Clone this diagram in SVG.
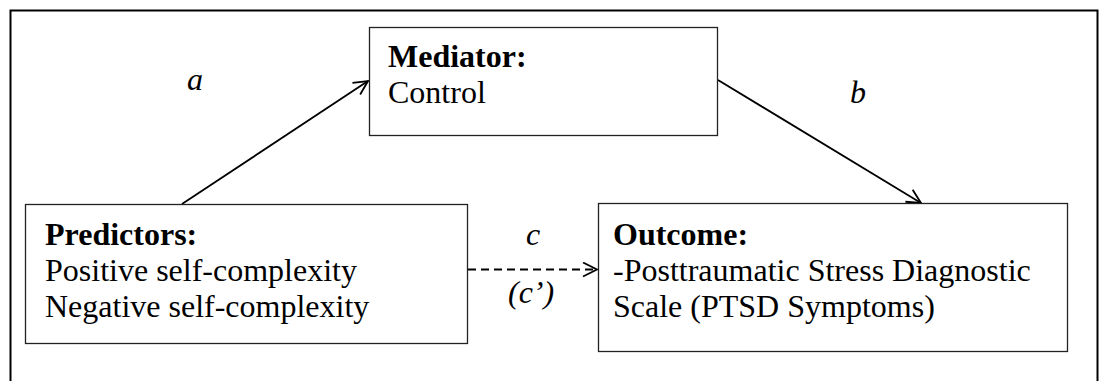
<svg xmlns="http://www.w3.org/2000/svg" width="1104" height="381" viewBox="0 0 1104 381">
<style>
.box{fill:#fff;stroke:#222;stroke-width:1.3}
.t{font-family:'Liberation Serif','DejaVu Serif',serif;font-size:32px;fill:#000}
.b{font-weight:bold}
.i{font-style:italic}
.conn{stroke:#000;stroke-width:1.8;fill:none}
</style>
<defs>
<marker id="ah" viewBox="0 0 16 16" refX="15" refY="8" markerWidth="16" markerHeight="16" markerUnits="userSpaceOnUse" orient="auto">
<path d="M1,1 L15,8 L1,15" fill="none" stroke="#000" stroke-width="1.8"/>
</marker>
</defs>
<rect x="10.5" y="10.5" width="1087" height="400" fill="#fff" stroke="#000" stroke-width="2"/>
<g id="connectors">
<line class="conn" x1="182" y1="204" x2="368" y2="81" marker-end="url(#ah)"/>
<line class="conn" x1="718" y1="80" x2="921" y2="203" marker-end="url(#ah)"/>
<line class="conn" x1="468" y1="269.5" x2="597" y2="269.5" stroke-dasharray="8,5" marker-end="url(#ah)"/>
</g>
<g id="mediator">
<rect class="box" x="369.5" y="27.5" width="348" height="108"/>
<text class="t b" x="388" y="67">Mediator:</text>
<text class="t" x="388" y="103">Control</text>
</g>
<g id="predictors">
<rect class="box" x="25.5" y="204.5" width="442" height="139"/>
<text class="t b" x="45" y="245">Predictors:</text>
<text class="t" x="45" y="281">Positive self-complexity</text>
<text class="t" x="45" y="317">Negative self-complexity</text>
</g>
<g id="outcome">
<rect class="box" x="598.5" y="203.5" width="469" height="148"/>
<text class="t b" x="613" y="245">Outcome:</text>
<text class="t" x="613" y="281">-Posttraumatic Stress Diagnostic</text>
<text class="t" x="613" y="317">Scale (PTSD Symptoms)</text>
</g>
<g id="labels">
<text class="t i" x="187" y="90">a</text>
<text class="t i" x="850" y="103">b</text>
<text class="t i" x="526" y="245">c</text>
<text class="t i" x="508" y="303">(c’)</text>
</g>
</svg>
